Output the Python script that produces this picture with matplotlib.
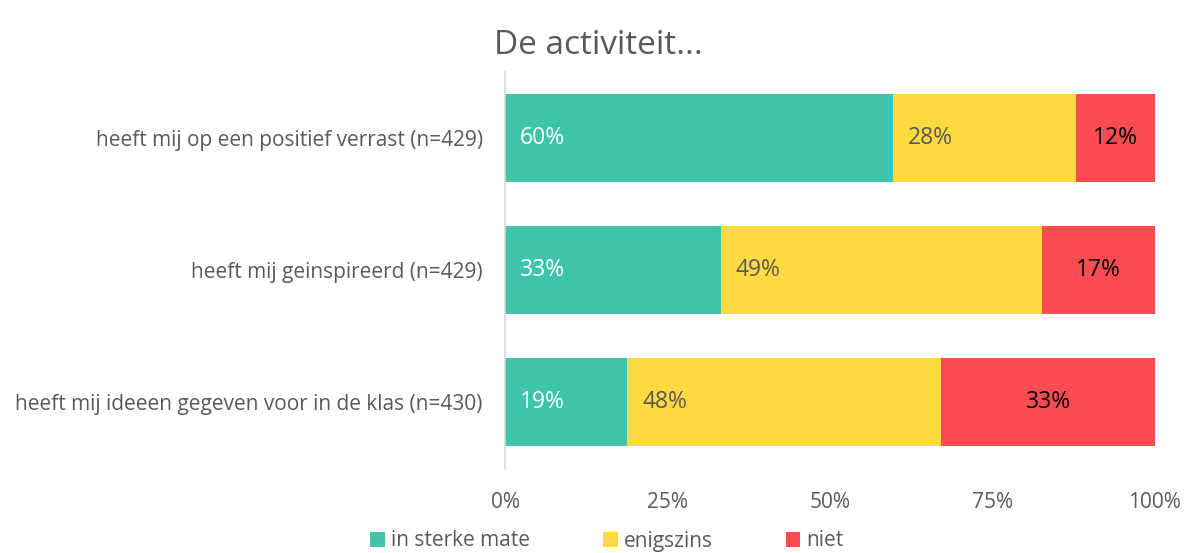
import matplotlib
matplotlib.use("Agg")
import matplotlib.pyplot as plt
from matplotlib.patches import Patch

categories = ["heeft mij op een positief verrast (n=429)",
              "heeft mij geinspireerd (n=429)",
              "heeft mij ideeen gegeven voor in de klas (n=430)"]
series_names = ["in sterke mate", "enigszins", "niet"]
sterk = [59.7, 33.2, 18.8]
enigszins = [28.1, 49.4, 48.3]
niet = [12.2, 17.4, 32.9]
labels_sterk = ["60%", "33%", "19%"]
labels_enig = ["28%", "49%", "48%"]
labels_niet = ["12%", "17%", "33%"]
xticks = [0, 25, 50, 75, 100]
xticklabels = ["0%", "25%", "50%", "75%", "100%"]

colors = ["#3EC4AA", "#FFD940", "#FC4C52"]
text_gray = "#595959"
plt.rcParams['font.family'] = ['Open Sans', 'DejaVu Sans']

fig = plt.figure(figsize=(11.91, 5.53), dpi=100)
ax = fig.add_axes([505/1191, 1-468/553, 650/1191, 396/553])

y = list(range(len(categories)))
h = 0.66
ax.barh(y, sterk, height=h, color=colors[0])
left2 = sterk
ax.barh(y, enigszins, left=left2, height=h, color=colors[1])
left3 = [a + b for a, b in zip(sterk, enigszins)]
ax.barh(y, niet, left=left3, height=h, color=colors[2])

fs = 15
vfs = 16.5
for i in y:
    ax.text(2.3, i, labels_sterk[i], color="white", va="center", ha="left", fontsize=vfs)
    ax.text(sterk[i] + 2.3, i, labels_enig[i], color=text_gray, va="center", ha="left", fontsize=vfs)
    ax.text(left3[i] + niet[i] / 2, i, labels_niet[i], color="black", va="center", ha="center", fontsize=vfs)

ax.set_xlim(0, 100)
ax.set_ylim(2.5, -0.5)
ax.set_yticks(y)
ax.set_yticklabels(categories, fontsize=fs, color=text_gray)
ax.set_xticks(xticks)
ax.set_xticklabels(xticklabels, fontsize=fs, color=text_gray)
ax.tick_params(axis='both', length=0)
ax.tick_params(axis='x', pad=17)
ax.tick_params(axis='y', pad=16)
for s in ["top", "right", "bottom"]:
    ax.spines[s].set_visible(False)
ax.spines["left"].set_color("#D9D9D9")
ax.spines["left"].set_linewidth(1.2)

fig.text(598/1191, 1-45/553, "De activiteit...", ha="center", va="center", fontsize=24, color=text_gray)

handles = [Patch(facecolor=c, edgecolor='none') for c in colors]
fig.legend(handles, series_names, loc="center", bbox_to_anchor=(607/1191, 1-541/553),
           ncol=3, frameon=False, fontsize=fs, labelcolor=text_gray,
           handlelength=0.7, handleheight=0.7, handletextpad=0.3, columnspacing=3.5)

fig.savefig("out.png", dpi=100)
